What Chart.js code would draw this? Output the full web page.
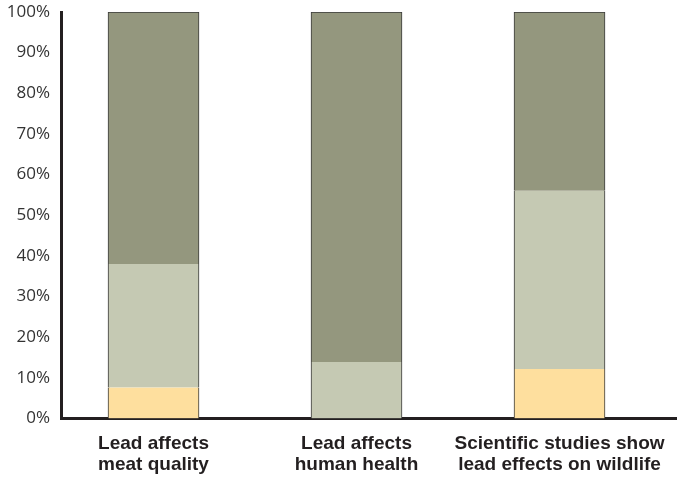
<!DOCTYPE html>
<html>
<head>
<meta charset="utf-8">
<script src="https://cdn.jsdelivr.net/npm/chart.js@4/dist/chart.umd.min.js"></script>
<style>
html,body{margin:0;padding:0;background:#fff;}
#wrap{width:677px;height:479px;}
</style>
</head>
<body>
<div id="wrap"><canvas id="c" width="677" height="479"></canvas></div>
<script>
const categories = [
  ["Lead affects", "meat quality"],
  ["Lead affects", "human health"],
  ["Scientific studies show", "lead effects on wildlife"]
];
const yellowValues = [7.6, 0, 12.2];
const lightValues = [30.4, 13.9, 43.8];
const darkValues = [62.0, 86.1, 44.0];
const yTicks = [0, 10, 20, 30, 40, 50, 60, 70, 80, 90, 100];

const toPts = arr => arr.map((v, i) => ({x: i, y: v}));
const edge = '#3a3a3a';

const ctx = document.getElementById('c').getContext('2d');
new Chart(ctx, {
  type: 'bar',
  data: {
    datasets: [
      {label: 'a', data: toPts(yellowValues), backgroundColor: '#FEDF9E',
       borderColor: edge, borderWidth: {left: 1, right: 1, top: 0, bottom: 0}, borderSkipped: false},
      {label: 'b', data: toPts(lightValues), backgroundColor: '#C5C9B3',
       borderColor: edge, borderWidth: {left: 1, right: 1, top: 0, bottom: 0}, borderSkipped: false},
      {label: 'c', data: toPts(darkValues), backgroundColor: '#94977E',
       borderColor: edge, borderWidth: {left: 1, right: 1, top: 1, bottom: 0}, borderSkipped: false}
    ]
  },
  options: {
    responsive: false,
    animation: false,
    events: [],
    barThickness: 91,
    layout: {padding: {top: 12, right: 0, left: 0, bottom: 0}},
    plugins: {legend: {display: false}, tooltip: {enabled: false}},
    scales: {
      x: {
        type: 'linear',
        stacked: true,
        offset: false,
        bounds: 'data',
        min: -0.4557,
        max: 2.5788,
        afterDataLimits: s => { s.min = -0.4557; s.max = 2.5788; },
        afterBuildTicks: s => { s.ticks = categories.map((c, i) => ({value: i})); },
        afterFit: s => { s.height = 60.5; s.paddingLeft = 0; s.paddingRight = 0; },
        grid: {display: false, drawTicks: false},
        border: {display: true, color: '#231F20', width: 3},
        ticks: {
          callback: v => categories[v],
          color: '#231F20',
          font: {family: '"Liberation Sans Narrow", "Liberation Sans", sans-serif', size: 19, weight: 'bold', lineHeight: 1.1},
          padding: 15,
          maxRotation: 0,
          autoSkip: false
        }
      },
      y: {
        stacked: true,
        min: 0,
        max: 100,
        afterBuildTicks: s => { s.ticks = yTicks.map(v => ({value: v})); },
        afterFit: s => { s.width = 61; s.paddingTop = 0; s.paddingBottom = 0; },
        grid: {display: false, drawTicks: false},
        border: {display: true, color: '#231F20', width: 3},
        ticks: {
          callback: v => v + '%',
          color: '#333333',
          font: {family: '"Open Sans", sans-serif', size: 17},
          padding: 11
        }
      }
    }
  }
});
</script>
</body>
</html>
